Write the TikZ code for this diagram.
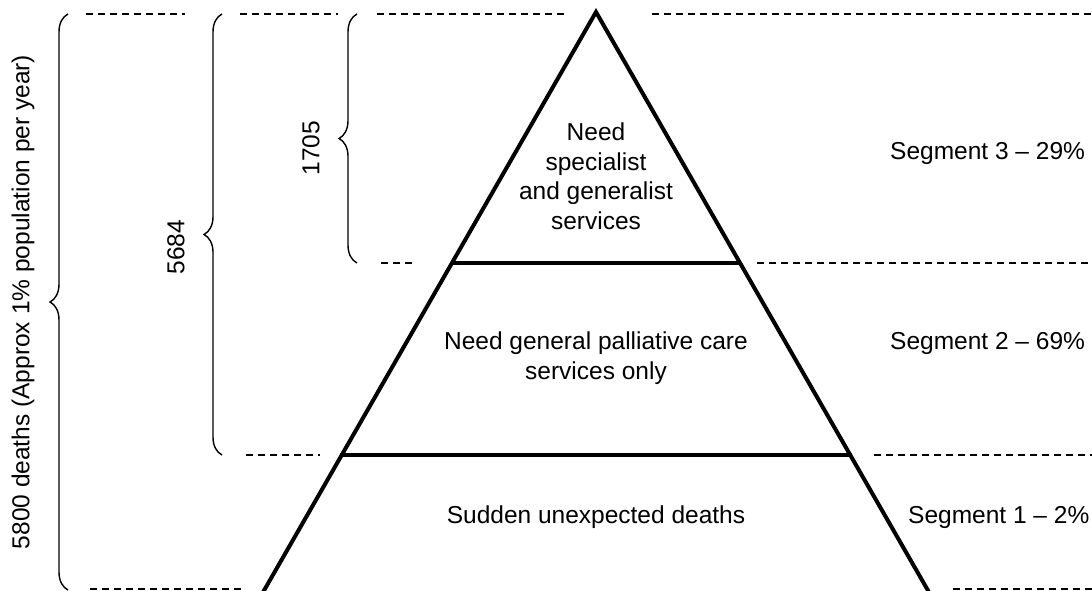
\documentclass[tikz,border=0pt]{standalone}
\usepackage{fontspec}
\setmainfont{Liberation Sans}
\usetikzlibrary{calc,decorations.pathreplacing}
\begin{document}
\begin{tikzpicture}[x=1pt,y=-1pt,
  every node/.style={font=\fontsize{24.5}{29.5}\selectfont, inner sep=0pt},
  edge/.style={line width=4pt, line join=miter},
  guide/.style={line width=1.6pt, dash pattern=on 7pt off 5pt},
  span/.style={line width=1.4pt, decorate, decoration={brace, amplitude=18pt}},
  inside/.style={align=center, anchor=center},
  seglabel/.style={anchor=west}]
\useasboundingbox (0,0) rectangle (1092,591);

% pyramid outline
\coordinate (apex) at (596,12);
\coordinate (bl) at (262,594);
\coordinate (br) at (930,594);
\coordinate (l3) at (451,263);
\coordinate (r3) at (741,263);
\coordinate (l2) at (340,455);
\coordinate (r2) at (852,455);
\draw[edge] (bl) -- (apex) -- (br);
\draw[edge] (l3) -- (r3);
\draw[edge] (l2) -- (r2);

% dashed level guides
\draw[guide] (86,14) -- (185,14);
\draw[guide] (240,14) -- (338,14);
\draw[guide] (377,14) -- (568,14);
\draw[guide] (652,14) -- (1092,14);
\draw[guide] (381,263) -- (414,263);
\draw[guide] (757,263) -- (1092,263);
\draw[guide] (246,455) -- (320,455);
\draw[guide] (874,455) -- (1092,455);
\draw[guide] (90,589) -- (243,589);
\draw[guide] (953,589) -- (1092,589);

% braces spanning the segments
\coordinate (b1s) at (68,590); \coordinate (b1e) at (68,14);
\coordinate (b2s) at (222,455); \coordinate (b2e) at (222,14);
\coordinate (b3s) at (357,263); \coordinate (b3e) at (357,14);
\draw[span] (b1s) -- (b1e);
\draw[span] (b2s) -- (b2e);
\draw[span] (b3s) -- (b3e);

% brace labels
\node[rotate=90] (total) at (23,302) {5800 deaths (Approx 1\% population per year)};
\node[rotate=90] (mid) at (176,247) {5684};
\node[rotate=90] (top) at (311,148) {1705};

% segment contents
\node[inside] (s3) at (596,176) {Need\\specialist\\and generalist\\services};
\node[inside] (s2) at (596,358) {Need general palliative care\\services only};
\node[inside] (s1) at (596,517) {Sudden unexpected deaths};

% segment shares
\node[seglabel] (p3) at (890,153) {Segment 3 -- 29\%};
\node[seglabel] (p2) at (890,343) {Segment 2 -- 69\%};
\node[seglabel] (p1) at (908,517) {Segment 1 -- 2\%};
\end{tikzpicture}
\end{document}
